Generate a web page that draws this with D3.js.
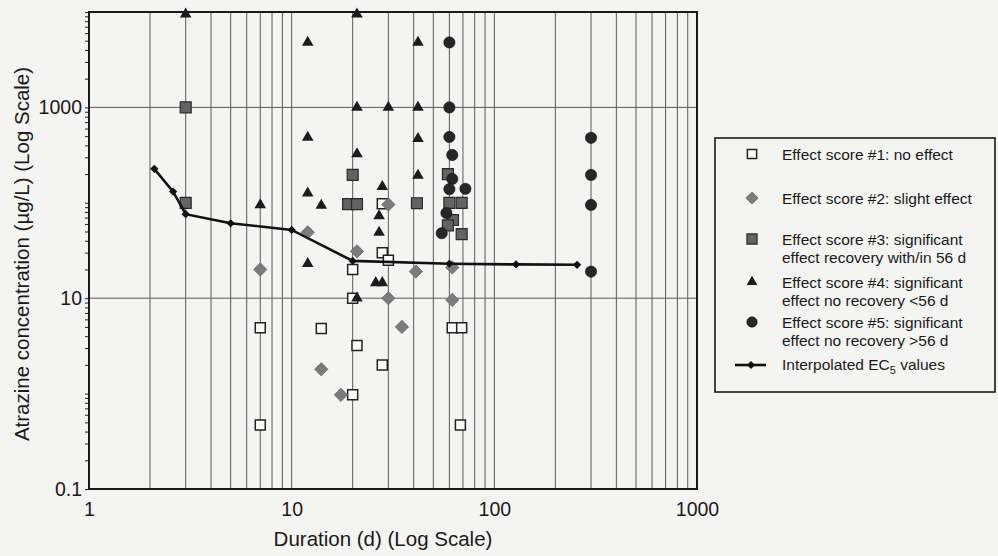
<!DOCTYPE html>
<html>
<head>
<meta charset="utf-8">
<script src="https://cdn.jsdelivr.net/npm/d3@7"></script>
<style>
  body { margin: 0; background: #f4f4f2; }
  svg { display: block; font-family: "Liberation Sans", Arial, sans-serif; }
</style>
</head>
<body>
<div id="vis"></div>
<script>
// [duration (d), atrazine concentration (ug/L)]
let score1 = [[7, 4.9], [7, 0.47], [14, 4.8], [20, 20], [20, 10], [21, 3.2], [20, 0.97],
  [28, 30], [30, 25], [28, 98], [28, 2], [62, 4.9], [69, 4.9], [68, 0.47]];
let score2 = [[7, 20], [12, 49], [14, 1.8], [17.5, 0.97], [21, 31], [30, 96], [30, 10],
  [41, 19], [35, 5], [62, 9.6], [62, 21]];
let score3 = [[3, 1000], [3, 100], [20, 196], [19, 97], [21, 97], [41.5, 99], [59, 200],
  [60, 100], [69, 100], [62.5, 66], [59, 58], [69, 47]];
let score4 = [[3, 9500], [21, 9500], [12, 4800], [42, 4800], [12, 485], [21, 1000], [30, 1000],
  [42, 1000], [42, 470], [21, 325], [12, 126], [42, 194], [28, 148], [14, 94], [7, 95],
  [27, 73], [27, 49], [12, 23], [26, 14.5], [28, 14.5], [21, 10]];
let score5 = [[60, 4800], [60, 1000], [60, 490], [62, 317], [62, 178], [60, 139], [72, 140],
  [58, 78], [55, 48], [300, 480], [300, 196], [300, 95], [300, 19]];
let ec5 = [[2.1, 227], [2.6, 131], [3, 76], [5, 61], [10, 52], [20, 24.6], [60, 23], [128, 22.6], [256, 22.4]];

let xTicks = [1, 10, 100, 1000];
let yTicks = [0.1, 10, 1000];
let yGrid = [10, 1000];

let legendLabels = [
  ['Effect score #1: no effect'],
  ['Effect score #2: slight effect'],
  ['Effect score #3: significant', 'effect recovery with/in 56 d'],
  ['Effect score #4: significant', 'effect no recovery <56 d'],
  ['Effect score #5: significant', 'effect no recovery >56 d']
];

let width = 998, height = 556;
let plot = {left: 89, right: 697, top: 12, bottom: 489};

let svg = d3.select('#vis')
  .append('svg')
  .attr('width', width)
  .attr('height', height);

let x = d3.scaleLog().domain([1, 1000]).range([plot.left, plot.right]);
let y = d3.scaleLog().domain([0.1, 10000]).range([plot.bottom, plot.top]);

// vertical grid on every 1-9 step of each decade
svg.append('g')
  .selectAll('line')
  .data(x.ticks().filter(d => d > 1 && d < 1000))
  .join('line')
  .attr('x1', d => x(d)).attr('x2', d => x(d))
  .attr('y1', plot.top).attr('y2', plot.bottom)
  .attr('stroke', '#5a5a5a')
  .attr('stroke-width', 1);

// horizontal grid only at 10 and 1000
svg.append('g')
  .selectAll('line')
  .data(yGrid)
  .join('line')
  .attr('x1', plot.left).attr('x2', plot.right)
  .attr('y1', d => y(d)).attr('y2', d => y(d))
  .attr('stroke', '#5a5a5a')
  .attr('stroke-width', 1);

// y axis with minor ticks, labels every second decade
let yAxis = svg.append('g')
  .attr('transform', `translate(${plot.left},0)`)
  .call(d3.axisLeft(y)
    .tickValues(y.ticks())
    .tickSize(4)
    .tickPadding(3)
    .tickFormat(d => yTicks.includes(d) ? d3.format('~g')(d) : ''));
yAxis.select('.domain').remove();
yAxis.selectAll('line').attr('stroke', '#222');
yAxis.selectAll('text')
  .attr('font-size', '19.5px')
  .attr('font-family', '"Liberation Sans", Arial, sans-serif')
  .attr('fill', '#1a1a1a');

// x axis labels
let xAxis = svg.append('g')
  .attr('transform', `translate(0,${plot.bottom})`)
  .call(d3.axisBottom(x)
    .tickValues(xTicks)
    .tickSize(0)
    .tickPadding(13)
    .tickFormat(d3.format('~g')));
xAxis.select('.domain').remove();
xAxis.selectAll('text')
  .attr('font-size', '19.5px')
  .attr('font-family', '"Liberation Sans", Arial, sans-serif')
  .attr('fill', '#1a1a1a');

// plot frame
svg.append('rect')
  .attr('x', plot.left).attr('y', plot.top)
  .attr('width', plot.right - plot.left)
  .attr('height', plot.bottom - plot.top)
  .attr('fill', 'none')
  .attr('stroke', '#1a1a1a')
  .attr('stroke-width', 2);

// axis titles
svg.append('text')
  .attr('x', (plot.left + plot.right) / 2 - 10)
  .attr('y', 546)
  .attr('text-anchor', 'middle')
  .attr('font-size', '20.5px')
  .attr('fill', '#1a1a1a')
  .text('Duration (d) (Log Scale)');

svg.append('text')
  .attr('transform', 'translate(29,254) rotate(-90)')
  .attr('text-anchor', 'middle')
  .attr('font-size', '20.5px')
  .attr('fill', '#1a1a1a')
  .text('Atrazine concentration (µg/L) (Log Scale)');

// marker styles for the five effect scores
let styles = [
  {type: d3.symbolSquare, size: 100, rot: 0, fill: '#fbfbfa', stroke: '#222', sw: 1.5},
  {type: d3.symbolSquare, size: 88, rot: 45, fill: '#7b7b7b', stroke: '#6a6a6a', sw: 0.8},
  {type: d3.symbolSquare, size: 120, rot: 0, fill: '#636363', stroke: '#2a2a2a', sw: 1.2},
  {type: d3.symbolTriangle, size: 58, rot: 0, fill: '#1c1c1c', stroke: 'none', sw: 0},
  {type: d3.symbolCircle, size: 100, rot: 0, fill: '#262626', stroke: '#111', sw: 0.6}
];
let series = [score1, score2, score3, score4, score5];

series.forEach((data, i) => {
  let s = styles[i];
  svg.append('g')
    .selectAll('path')
    .data(data)
    .join('path')
    .attr('d', d3.symbol().type(s.type).size(s.size))
    .attr('transform', d => `translate(${x(d[0])},${y(d[1])}) rotate(${s.rot})`)
    .attr('fill', s.fill)
    .attr('stroke', s.stroke)
    .attr('stroke-width', s.sw);
});

// interpolated EC5 line
let line = d3.line().x(d => x(d[0])).y(d => y(d[1]));
svg.append('path')
  .datum(ec5)
  .attr('d', line)
  .attr('fill', 'none')
  .attr('stroke', '#111')
  .attr('stroke-width', 2.6);
svg.append('g')
  .selectAll('path')
  .data(ec5)
  .join('path')
  .attr('d', d3.symbol().type(d3.symbolSquare).size(34))
  .attr('transform', d => `translate(${x(d[0])},${y(d[1])}) rotate(45)`)
  .attr('fill', '#111');

// legend
let legend = svg.append('g');
legend.append('rect')
  .attr('x', 715).attr('y', 138)
  .attr('width', 280).attr('height', 254)
  .attr('fill', 'none')
  .attr('stroke', '#1a1a1a')
  .attr('stroke-width', 1.6);

let rowY = [155, 199, 240, 283, 323];
legendLabels.forEach((lines, i) => {
  let s = styles[i];
  legend.append('path')
    .attr('d', d3.symbol().type(s.type).size(s.size * 0.85))
    .attr('transform', `translate(752,${rowY[i] - 1}) rotate(${s.rot})`)
    .attr('fill', s.fill)
    .attr('stroke', s.stroke)
    .attr('stroke-width', s.sw);
  lines.forEach((t, j) => {
    legend.append('text')
      .attr('x', 782)
      .attr('y', rowY[i] + j * 18)
      .attr('dy', '0.35em')
      .attr('font-size', '15.5px')
      .attr('fill', '#1a1a1a')
      .text(t);
  });
});

// EC5 legend entry
legend.append('line')
  .attr('x1', 735).attr('x2', 766)
  .attr('y1', 365).attr('y2', 365)
  .attr('stroke', '#111')
  .attr('stroke-width', 2.6);
legend.append('path')
  .attr('d', d3.symbol().type(d3.symbolSquare).size(34))
  .attr('transform', 'translate(751,365) rotate(45)')
  .attr('fill', '#111');
let ecText = legend.append('text')
  .attr('x', 782)
  .attr('y', 365)
  .attr('dy', '0.35em')
  .attr('font-size', '15.5px')
  .attr('fill', '#1a1a1a');
ecText.append('tspan').text('Interpolated EC');
ecText.append('tspan').attr('font-size', '11px').attr('dy', '4').text('5');
ecText.append('tspan').attr('dy', '-4').text(' values');
</script>
</body>
</html>
